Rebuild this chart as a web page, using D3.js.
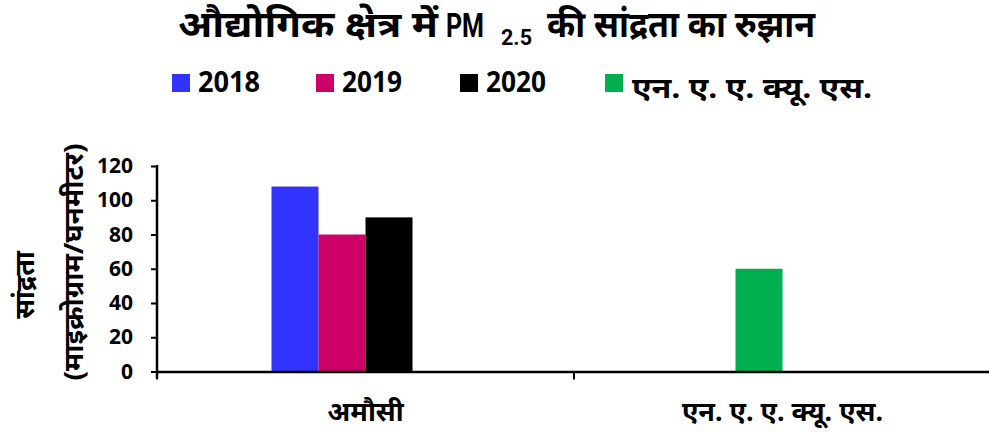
<!DOCTYPE html>
<html lang="hi">
<head>
    <meta charset="UTF-8">
    <title>PM 2.5</title>
    <script src="https://cdn.jsdelivr.net/npm/d3@7/dist/d3.min.js"></script>
    <style>
        body { margin: 0; background: #fff; }
        text { font-family: "Noto Sans", "DejaVu Sans", sans-serif; font-weight: bold; fill: #000; }
        .latin { font-family: Roboto, "Liberation Sans", sans-serif; }
    </style>
</head>
<body>
<script>
    // data
    const categories = ["अमौसी", "एन. ए. ए. क्यू. एस."];
    const seriesNames = ["2018", "2019", "2020", "एन. ए. ए. क्यू. एस."];
    const seriesColors = ["#3333ff", "#cc0066", "#000000", "#00b050"];
    const values2018 = [108, null];
    const values2019 = [80, 60];   // 2nd point sits in the 2019 slot but is painted green
    const values2020 = [90, null];
    const valuesNaaqs = [null, null];
    const yTicks = [0, 20, 40, 60, 80, 100, 120];

    const W = 989, H = 432;
    const margin = {top: 166, right: -2, bottom: 60.5, left: 157};

    const svg = d3.select("body").append("svg").attr("width", W).attr("height", H);

    const x0 = d3.scaleBand().domain(categories).range([margin.left, W - margin.right]);
    const x1 = d3.scaleBand().domain(seriesNames).range([0, x0.bandwidth()]).paddingOuter(2.436);
    const y = d3.scaleLinear().domain([0, 120]).range([H - margin.bottom, margin.top]);

    const allValues = [values2018, values2019, values2020, valuesNaaqs];
    const bars = [];
    categories.forEach((c, ci) => {
        allValues.forEach((vals, si) => {
            if (vals[ci] == null) return;
            let color = seriesColors[si];
            if (si === 1 && ci === 1) color = seriesColors[3];
            bars.push({cat: c, series: seriesNames[si], value: vals[ci], color});
        });
    });

    svg.append("g")
        .selectAll("rect")
        .data(bars)
        .join("rect")
        .attr("x", d => x0(d.cat) + x1(d.series))
        .attr("y", d => y(d.value))
        .attr("width", x1.bandwidth())
        .attr("height", d => y(0) - y(d.value))
        .attr("fill", d => d.color);

    // y axis
    const yAxis = svg.append("g")
        .attr("transform", `translate(${margin.left},0)`)
        .call(d3.axisLeft(y).tickValues(yTicks).tickSize(6).tickPadding(18));
    yAxis.select(".domain").attr("stroke-width", 2.5).attr("d", `M0,${y(120) - 1}V${y(0) + 7}`);
    yAxis.selectAll(".tick line").attr("stroke-width", 2);
    yAxis.selectAll(".tick text")
        .style("font-size", "21px")
        .style("font-family", "'Open Sans', sans-serif");

    // x axis
    const xAxis = svg.append("g")
        .attr("transform", `translate(0,${y(0)})`)
        .call(d3.axisBottom(x0).tickSize(0).tickFormat(""));
    xAxis.select(".domain").attr("stroke-width", 2.5);
    svg.append("g")
        .selectAll("line")
        .data(x0.domain())
        .join("line")
        .attr("x1", d => x0(d)).attr("x2", d => x0(d))
        .attr("y1", y(0)).attr("y2", y(0) + 8)
        .attr("stroke", "#000").attr("stroke-width", 2);

    svg.append("g")
        .selectAll("text")
        .data(categories)
        .join("text")
        .attr("x", d => x0(d) + x0.bandwidth() / 2)
        .attr("y", 421)
        .attr("text-anchor", "middle")
        .style("font-size", "27px")
        .text(d => d);

    // y labels
    svg.append("text")
        .attr("transform", "translate(34,285) rotate(-90)")
        .attr("text-anchor", "middle")
        .style("font-size", "27px")
        .text("सांद्रता");
    svg.append("text")
        .attr("transform", "translate(83,262) rotate(-90)")
        .attr("text-anchor", "middle")
        .style("font-size", "27px")
        .attr("textLength", 237).attr("lengthAdjust", "spacingAndGlyphs")
        .text("(माइक्रोग्राम/घनमीटर)");

    // title, drawn in pieces so each part keeps its own width
    const title = svg.append("g");
    title.append("text").attr("x", 178).attr("y", 37)
        .style("font-size", "36px")
        .attr("textLength", 260).attr("lengthAdjust", "spacingAndGlyphs")
        .text("औद्योगिक क्षेत्र में");
    title.append("text").attr("class", "latin")
        .attr("x", 446).attr("y", 37)
        .style("font-size", "34px")
        .attr("textLength", 38).attr("lengthAdjust", "spacingAndGlyphs")
        .text("PM");
    title.append("text").attr("class", "latin")
        .attr("x", 501).attr("y", 45)
        .style("font-size", "22px")
        .attr("textLength", 31).attr("lengthAdjust", "spacingAndGlyphs")
        .text("2.5");
    title.append("text").attr("x", 547).attr("y", 37)
        .style("font-size", "36px")
        .attr("textLength", 268).attr("lengthAdjust", "spacingAndGlyphs")
        .text("की सांद्रता का रुझान");

    // legend
    const legendX = [172, 316, 460, 605];
    const legendW = [62, 60, 60, 240];
    const legend = svg.append("g")
        .selectAll("g")
        .data(seriesNames)
        .join("g")
        .attr("transform", (d, i) => `translate(${legendX[i]},74)`);
    legend.append("rect").attr("width", 18).attr("height", 18).attr("fill", (d, i) => seriesColors[i]);
    legend.append("text")
        .attr("x", (d, i) => i === 3 ? 27 : 26)
        .attr("y", (d, i) => i === 3 ? 24 : 18)
        .style("font-size", (d, i) => i === 3 ? "29px" : "28px")
        .style("font-family", (d, i) => i === 3 ? null : "'Open Sans', sans-serif")
        .attr("textLength", (d, i) => legendW[i]).attr("lengthAdjust", "spacingAndGlyphs")
        .text(d => d);
</script>
</body>
</html>
